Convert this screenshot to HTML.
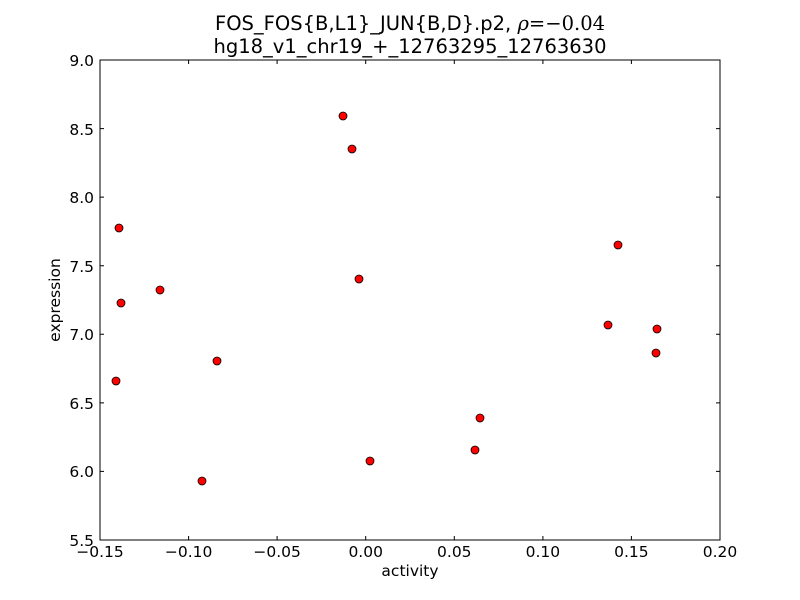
<!DOCTYPE html>
<html><head><meta charset="utf-8"><style>body{margin:0;background:#fff}svg{display:block}text{font-family:"DejaVu Sans","Liberation Sans",sans-serif;fill:#000}</style></head><body>
<svg width="800" height="600" xmlns="http://www.w3.org/2000/svg">
<rect width="800" height="600" fill="#fff"/>
<text x="410" y="30" font-size="19.5" text-anchor="middle">FOS_FOS{B,L1}_JUN{B,D}.p2, <tspan font-family="DejaVu Serif" font-style="italic">ρ</tspan><tspan font-family="DejaVu Serif">=−0.04</tspan></text>
<text x="410" y="53" font-size="19.5" text-anchor="middle">hg18_v1_chr19_+_12763295_12763630</text>
<rect x="100" y="60" width="620" height="480" fill="none" stroke="#000" stroke-width="1"/>
<g stroke="#000" stroke-width="1">
<path d="M100,540v-4M188.6,540v-4M277.1,540v-4M365.7,540v-4M454.3,540v-4M542.9,540v-4M631.4,540v-4M720,540v-4
M100,60v4M188.6,60v4M277.1,60v4M365.7,60v4M454.3,60v4M542.9,60v4M631.4,60v4M720,60v4
M100,540h4M100,471.4h4M100,402.9h4M100,334.3h4M100,265.7h4M100,197.1h4M100,128.6h4M100,60h4
M720,540h-4M720,471.4h-4M720,402.9h-4M720,334.3h-4M720,265.7h-4M720,197.1h-4M720,128.6h-4M720,60h-4"/>
</g>
<g font-size="15.5" text-anchor="middle">
<text x="100" y="557">−0.15</text><text x="188.6" y="557">−0.10</text><text x="277.1" y="557">−0.05</text><text x="365.7" y="557">0.00</text><text x="454.3" y="557">0.05</text><text x="542.9" y="557">0.10</text><text x="631.4" y="557">0.15</text><text x="720" y="557">0.20</text>
</g>
<g font-size="15.5" text-anchor="end">
<text x="94" y="546">5.5</text><text x="94" y="477">6.0</text><text x="94" y="409">6.5</text><text x="94" y="340">7.0</text><text x="94" y="272">7.5</text><text x="94" y="203">8.0</text><text x="94" y="135">8.5</text><text x="94" y="66">9.0</text>
</g>
<text x="410" y="576" font-size="15.5" text-anchor="middle">activity</text>
<text x="60" y="300" font-size="15.5" text-anchor="middle" transform="rotate(-90 60 300)">expression</text>
<g fill="#f00" stroke="#000" stroke-width="0.8">
<circle cx="343" cy="116" r="4"/><circle cx="352" cy="149" r="4"/><circle cx="119" cy="228" r="4"/><circle cx="618" cy="245" r="4"/><circle cx="359" cy="279" r="4"/><circle cx="121" cy="303" r="4"/><circle cx="160" cy="290" r="4"/><circle cx="608" cy="325" r="4"/><circle cx="657" cy="329" r="4"/><circle cx="217" cy="361" r="4"/><circle cx="656" cy="353" r="4"/><circle cx="116" cy="381" r="4"/><circle cx="480" cy="418" r="4"/><circle cx="370" cy="461" r="4"/><circle cx="475" cy="450" r="4"/><circle cx="202" cy="481" r="4"/>
</g>
</svg>
</body></html>
